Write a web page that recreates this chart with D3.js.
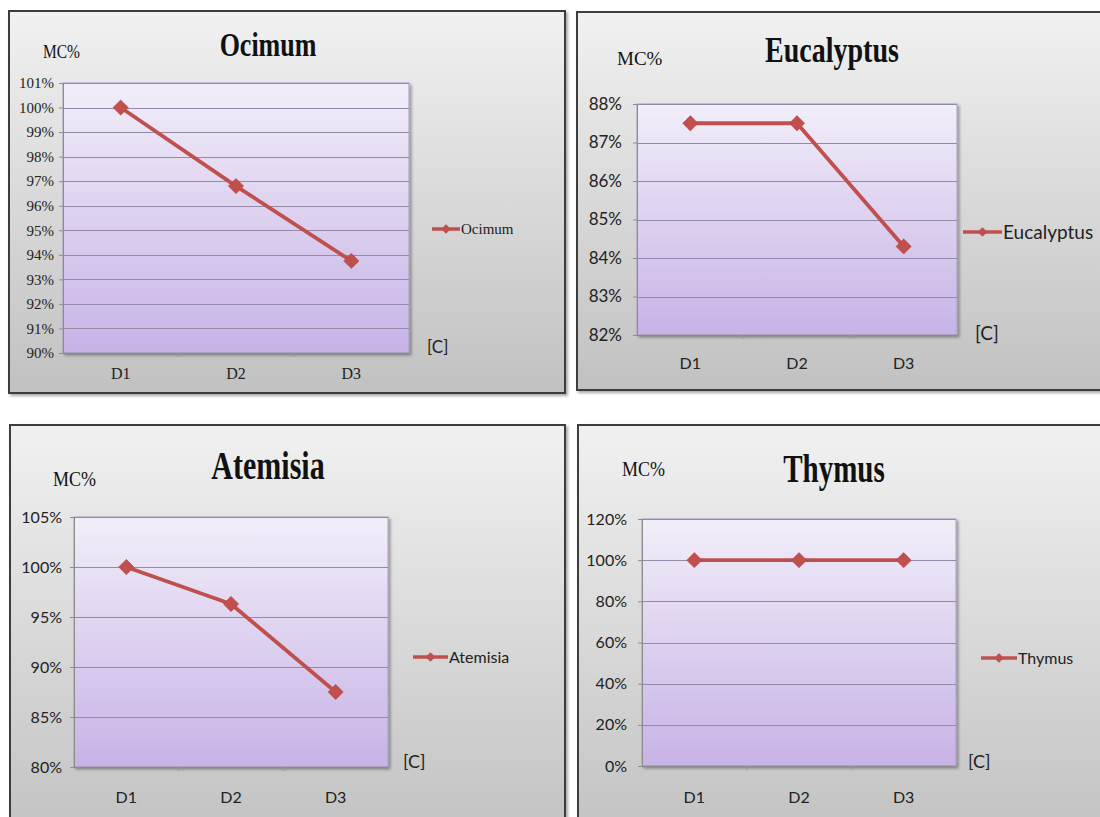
<!DOCTYPE html>
<html>
<head>
<meta charset="utf-8">
<script src="https://cdn.jsdelivr.net/npm/d3@7"></script>
<style>
  html, body { margin: 0; padding: 0; background: #ffffff; }
  svg { display: block; }
</style>
</head>
<body>
<svg id="chart" width="1100" height="817"></svg>
<script>
// ---------------- DATA ----------------
const categories = ["D1", "D2", "D3"];

const ocimumValues     = [1.000, 0.968, 0.9375];
const eucalyptusValues = [0.875, 0.875, 0.843];
const atemisiaValues   = [1.000, 0.963, 0.875];
const thymusValues     = [1.000, 1.000, 1.000];

const ocimumTicks     = [0.90, 0.91, 0.92, 0.93, 0.94, 0.95, 0.96, 0.97, 0.98, 0.99, 1.00, 1.01];
const eucalyptusTicks = [0.82, 0.83, 0.84, 0.85, 0.86, 0.87, 0.88];
const atemisiaTicks   = [0.80, 0.85, 0.90, 0.95, 1.00, 1.05];
const thymusTicks     = [0.0, 0.2, 0.4, 0.6, 0.8, 1.0, 1.2];

const seriesNames = ["Ocimum", "Eucalyptus", "Atemisia", "Thymus"];
const yAxisLabel = "MC%";
const xAxisLabel = "[C]";

// ---------------- LAYOUT ----------------
const SERIF = "'Liberation Serif', 'Times New Roman', serif";
const SANS = "Lato, 'Open Sans', sans-serif";
const RED = "#C0504D";

const panels = [
  { name: seriesNames[0], values: ocimumValues, ticks: ocimumTicks, tickFont: SERIF, tickSize: 15, xFont: SERIF, xSize: 16, legFont: SERIF, legSize: 15,
    box: [9, 11, 556, 382], plot: [63, 83, 409, 353],
    title: [268, 56, 26, 1.3], mc: [43, 58, 15.5, 1.22], leg: [432, 460, 229], c: [427, 347], cSize: 17, xlab: 373, tickRight: 54 },
  { name: seriesNames[1], values: eucalyptusValues, ticks: eucalyptusTicks, tickFont: SANS, tickSize: 17, xFont: SANS, xSize: 16, legFont: SANS, legSize: 19,
    box: [577, 12, 540, 378], plot: [637, 104, 957, 335],
    title: [832, 62, 28, 1.3], mc: [617, 65, 19, 1.0], leg: [963, 1002, 232], c: [975, 333], cSize: 19, xlab: 363, tickRight: 622 },
  { name: seriesNames[2], values: atemisiaValues, ticks: atemisiaTicks, tickFont: SANS, tickSize: 16, xFont: SANS, xSize: 16, legFont: SANS, legSize: 16,
    box: [10, 425, 555, 420], plot: [74, 517, 388, 767],
    title: [268, 479, 30, 1.3], mc: [53, 486, 18, 1.15], leg: [413, 448, 657], c: [403, 762], cSize: 18, xlab: 797, tickRight: 62 },
  { name: seriesNames[3], values: thymusValues, ticks: thymusTicks, tickFont: SANS, tickSize: 16, xFont: SANS, xSize: 16, legFont: SANS, legSize: 16,
    box: [578, 425, 540, 420], plot: [642, 519, 956, 766],
    title: [834, 482, 29, 1.35], mc: [622, 476, 18, 1.15], leg: [981, 1017, 658], c: [968, 762], cSize: 18, xlab: 797, tickRight: 627 }
];

const svg = d3.select("#chart");
const defs = svg.append("defs");

const bgGrad = defs.append("linearGradient").attr("id", "bgGrad").attr("x1", 0).attr("y1", 0).attr("x2", 0).attr("y2", 1);
bgGrad.append("stop").attr("offset", "0%").attr("stop-color", "#F1F1F1");
bgGrad.append("stop").attr("offset", "100%").attr("stop-color", "#C1C1C1");

const plotGrad = defs.append("linearGradient").attr("id", "plotGrad").attr("x1", 0).attr("y1", 0).attr("x2", 0).attr("y2", 1);
plotGrad.append("stop").attr("offset", "0%").attr("stop-color", "#F2EEF9");
plotGrad.append("stop").attr("offset", "100%").attr("stop-color", "#C7B3E6");

const shadow = defs.append("filter").attr("id", "shadow").attr("x", "-10%").attr("y", "-10%").attr("width", "130%").attr("height", "130%");
shadow.append("feGaussianBlur").attr("in", "SourceAlpha").attr("stdDeviation", 1.5);
shadow.append("feOffset").attr("dx", 2).attr("dy", 2).attr("result", "ob");
shadow.append("feComponentTransfer").append("feFuncA").attr("type", "linear").attr("slope", 0.35);
const merge = shadow.append("feMerge");
merge.append("feMergeNode");
merge.append("feMergeNode").attr("in", "SourceGraphic");

const diamond = d3.symbol().type(d3.symbolDiamond2 || d3.symbolDiamond);

function stretchedText(g, x, y, txt, font, size, sy, weight, anchor) {
  g.append("text")
    .attr("transform", `translate(${x},${y}) scale(1,${sy})`)
    .attr("text-anchor", anchor)
    .attr("font-family", font)
    .attr("font-size", size)
    .attr("font-weight", weight)
    .attr("fill", "#111")
    .text(txt);
}

panels.forEach(p => {
  const g = svg.append("g");
  const [bx, by, bw, bh] = p.box;
  g.append("rect").attr("x", bx).attr("y", by).attr("width", bw).attr("height", bh)
    .attr("fill", "url(#bgGrad)").attr("stroke", "#3C3C3C").attr("stroke-width", 2)
    .attr("filter", "url(#shadow)");

  const [x0, y0, x1, y1] = p.plot;
  const x = d3.scaleBand().domain(categories).range([x0, x1]);
  const y = d3.scaleLinear().domain(d3.extent(p.ticks)).range([y1, y0]);

  // plot background
  g.append("rect").attr("x", x0).attr("y", y0).attr("width", x1 - x0).attr("height", y1 - y0)
    .attr("fill", "url(#plotGrad)").attr("stroke", "#A89DC0").attr("stroke-width", 1)
    .attr("filter", "url(#shadow)");

  // gridlines
  g.append("g").selectAll("line").data(p.ticks).join("line")
    .attr("x1", x0).attr("x2", x1)
    .attr("y1", d => Math.round(y(d)) + 0.5).attr("y2", d => Math.round(y(d)) + 0.5)
    .attr("stroke", "#9389A8").attr("stroke-width", 1.2);

  // y axis
  const yAxis = d3.axisLeft(y).tickValues(p.ticks).tickSize(4).tickPadding(p.plot[0] - 4 - p.tickRight)
    .tickFormat(d => Math.round(d * 100) + "%");
  const ya = g.append("g").attr("transform", `translate(${x0},0)`).call(yAxis);
  ya.select(".domain").attr("stroke", "#8C8C8C");
  ya.selectAll(".tick line").attr("stroke", "#8C8C8C");
  ya.selectAll("text").attr("font-family", p.tickFont).attr("font-size", p.tickSize).attr("fill", "#222");

  // x axis
  const xAxis = d3.axisBottom(x).tickSize(0).tickPadding(0);
  const xa = g.append("g").attr("transform", `translate(0,${y1})`).call(xAxis);
  xa.select(".domain").attr("stroke", "#8C8C8C").attr("stroke-width", 1.5);
  xa.selectAll("text").attr("font-family", p.xFont).attr("font-size", p.xSize).attr("fill", "#222")
    .attr("y", p.xlab - y1).attr("dy", "0.35em");
  // small boundary ticks on x axis
  g.append("g").selectAll("line").data(categories.slice(1)).join("line")
    .attr("x1", d => x(d)).attr("x2", d => x(d)).attr("y1", y1).attr("y2", y1 + 4)
    .attr("stroke", "#9A9A9A");

  // line
  const line = d3.line().x((d, i) => x(categories[i]) + x.bandwidth() / 2).y(d => y(d));
  g.append("path").datum(p.values).attr("d", line)
    .attr("fill", "none").attr("stroke", RED).attr("stroke-width", 3.8).attr("stroke-linejoin", "round");
  g.append("g").selectAll("path").data(p.values).join("path")
    .attr("transform", (d, i) => `translate(${x(categories[i]) + x.bandwidth() / 2},${y(d)})`)
    .attr("d", diamond.size(150)).attr("fill", RED).attr("stroke", "#B8413E").attr("stroke-width", 0.5);

  // title
  stretchedText(g, p.title[0], p.title[1], p.name, SERIF, p.title[2], p.title[3], "bold", "middle");
  // MC%
  stretchedText(g, p.mc[0], p.mc[1], yAxisLabel, SERIF, p.mc[2], p.mc[3], "normal", "start");

  // [C]
  g.append("text").attr("x", p.c[0]).attr("y", p.c[1]).attr("dy", "0.35em")
    .attr("font-family", SANS).attr("font-size", p.cSize).attr("fill", "#222").text(xAxisLabel);

  // legend
  const [lx0, lx1, ly] = p.leg;
  g.append("line").attr("x1", lx0).attr("x2", lx1).attr("y1", ly).attr("y2", ly)
    .attr("stroke", RED).attr("stroke-width", 3.5);
  g.append("path").attr("transform", `translate(${(lx0 + lx1) / 2},${ly})`)
    .attr("d", diamond.size(60)).attr("fill", RED);
  g.append("text").attr("x", lx1 + 1).attr("y", ly).attr("dy", "0.35em")
    .attr("font-family", p.legFont).attr("font-size", p.legSize).attr("fill", "#222").text(p.name);
});
</script>
</body>
</html>
